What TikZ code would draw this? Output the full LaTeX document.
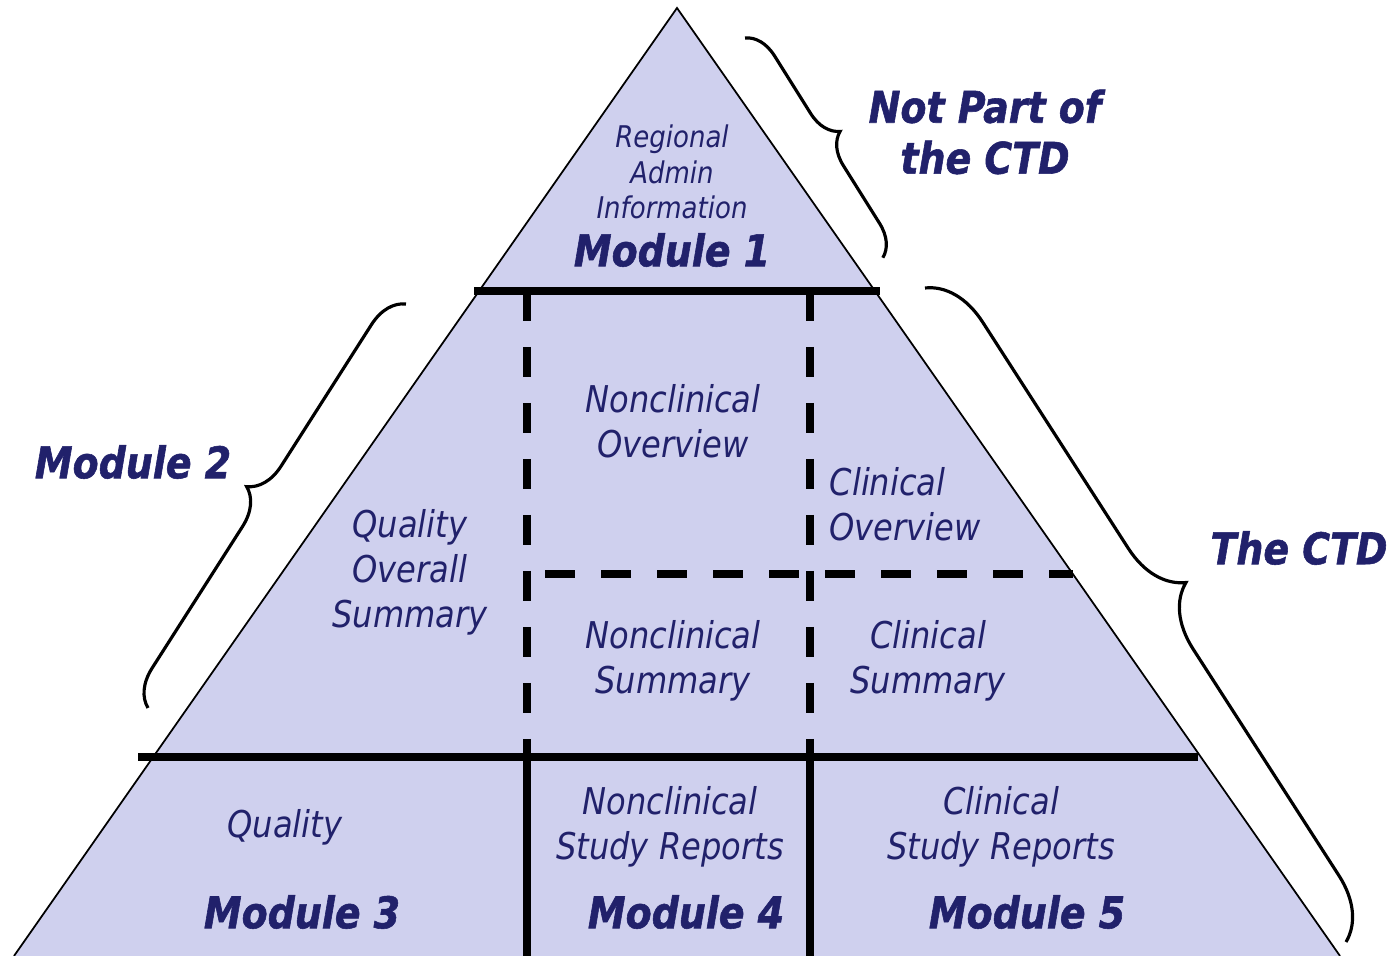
\documentclass[tikz,border=0pt]{standalone}
\usepackage{fontspec}
\setmainfont{DejaVu Sans}[FakeStretch=0.87, BoldItalicFeatures={FakeBold=1.3}]
\usetikzlibrary{decorations.pathreplacing}

\definecolor{ctdfill}{RGB}{207,208,238}
\definecolor{ctdtext}{RGB}{33,33,107}

\begin{document}
\begin{tikzpicture}[
        part/.style = {font=\itshape\fontsize{10.5}{12.8}\selectfont, text=ctdtext, align=center, inner sep=0pt},
        small/.style = {font=\itshape\fontsize{8.5}{10}\selectfont, text=ctdtext, align=center, inner sep=0pt},
        module/.style = {font=\bfseries\itshape\fontsize{12.4}{14.5}\selectfont, text=ctdtext, align=center, inner sep=0pt},
        solidline/.style = {line width=2.2pt},
        dashline/.style = {line width=2pt, dash pattern=on 0.3cm off 0.26cm},
        curly/.style = {decorate, decoration={brace, amplitude=#1}, line width=0.9pt}]
    \useasboundingbox (0,0) rectangle (14,9.56);

    % pyramid
    \coordinate (apex) at (6.77,9.48);
    \coordinate (bl) at (0.14,0);
    \coordinate (br) at (13.40,0);
    \fill [ctdfill] (apex) -- (bl) -- (br) -- cycle;
    \draw [line width=0.5pt] (bl) -- (apex) -- (br);

    % dividers
    \coordinate (m1l) at (4.74,6.65);  \coordinate (m1r) at (8.80,6.65);
    \coordinate (m3l) at (1.38,1.99);  \coordinate (m3r) at (11.98,1.99);
    \coordinate (v1t) at (5.27,6.65);  \coordinate (v1m) at (5.27,1.99);  \coordinate (v1b) at (5.27,0);
    \coordinate (v2t) at (8.10,6.65);  \coordinate (v2m) at (8.10,1.99);  \coordinate (v2b) at (8.10,0);
    \coordinate (sumL) at (5.45,3.82); \coordinate (sumR) at (10.73,3.82);

    \draw [dashline] (v1t) -- (v1m);
    \draw [dashline] (v2t) -- (v2m);
    \draw [dashline] (sumL) -- (sumR);
    \draw [solidline] (m1l) -- (m1r);
    \draw [solidline] (m3l) -- (m3r);
    \draw [solidline] (v1m) -- (v1b);
    \draw [solidline] (v2m) -- (v2b);

    % module 1
    \node (regional) [small] at (6.72,7.84) {Regional\\Admin\\Information};
    \node (mod1) [module] at (6.72,7.06) {Module 1};

    % module 2
    \node (nonov) [part] at (6.73,5.35) {Nonclinical\\Overview};
    \node (clinov) [part, anchor=west, align=left] at (8.29,4.52) {Clinical\\Overview};
    \node (qos) [part] at (4.10,3.84) {Quality\\Overall\\Summary};
    \node (nonsum) [part] at (6.73,2.95) {Nonclinical\\Summary};
    \node (clinsum) [part] at (9.28,2.95) {Clinical\\Summary};

    % modules 3 to 5
    \node (quality) [part] at (2.85,1.29) {Quality};
    \node (mod3) [module] at (3.02,0.44) {Module 3};
    \node (nonrep) [part] at (6.70,1.29) {Nonclinical\\Study Reports};
    \node (mod4) [module] at (6.86,0.44) {Module 4};
    \node (clinrep) [part] at (10.01,1.29) {Clinical\\Study Reports};
    \node (mod5) [module] at (10.27,0.44) {Module 5};

    % braces and their labels
    \draw [curly=0.31cm] (7.45,9.18) -- (8.83,6.98);
    \draw [curly=0.6cm] (9.25,6.68) -- (13.46,0.14);
    \draw [curly=0.36cm] (1.48,2.48) -- (4.06,6.52);

    \node (notctd) [module] at (9.85,8.24) {Not Part of\\the CTD};
    \node (ctd) [module] at (12.99,4.08) {The CTD};
    \node (mod2) [module] at (1.33,4.94) {Module 2};
\end{tikzpicture}
\end{document}
